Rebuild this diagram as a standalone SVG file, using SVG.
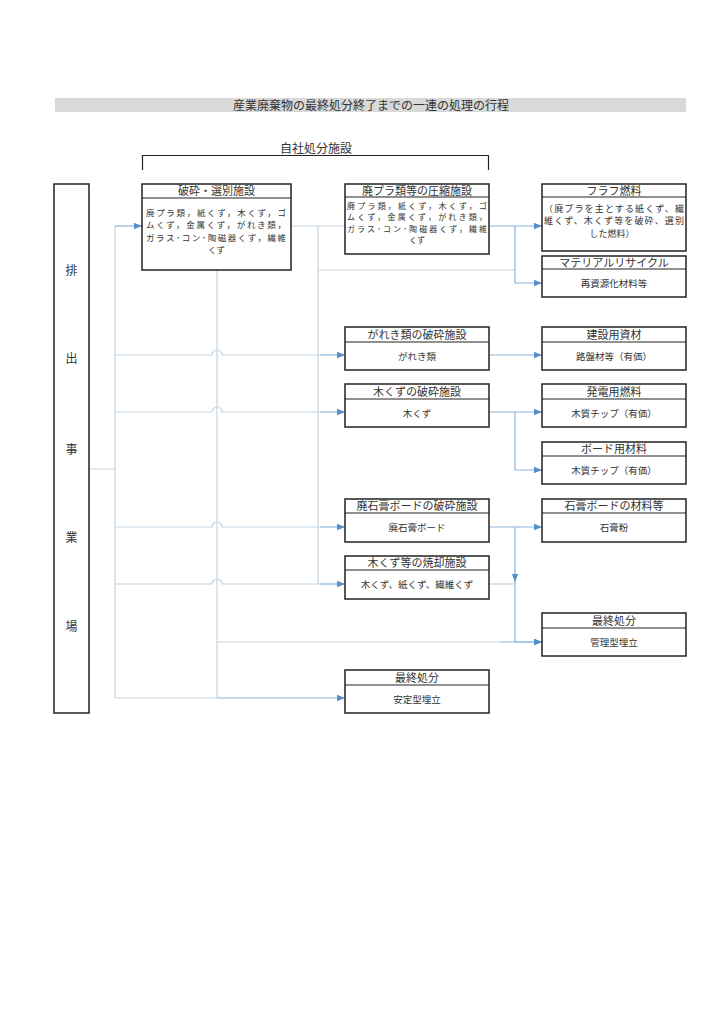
<svg xmlns="http://www.w3.org/2000/svg" width="724" height="1024" viewBox="0 0 724 1024">
<style>
text{font-family:"Noto Sans CJK JP","Noto Sans",sans-serif;fill:#333}
.box{fill:#fff;stroke:#222;stroke-width:1.5}
.hdr{stroke:#222;stroke-width:1.2}
.t{font-size:11px;text-anchor:middle}
.b{font-size:9.5px;text-anchor:middle}
.bl{font-size:9px}
.bm{font-size:8.5px}
.bs{font-size:8px}
.ln{fill:none;stroke:#c3d5e3;stroke-width:1.2}
.lb{fill:none;stroke:#8cb5d9;stroke-width:1.2}
.em{font-size:12px;text-anchor:middle}
</style>
<defs>
<marker id="ar" markerUnits="userSpaceOnUse" markerWidth="9" markerHeight="8" refX="8" refY="4" orient="auto">
<path d="M0,0.8 L8,4 L0,7.2 Z" fill="#5590c8"/>
</marker>
</defs>
<rect width="724" height="1024" fill="#fff"/>
<g id="title">
<rect x="55" y="98" width="631" height="14" fill="#d9d9d9"/>
<text x="371" y="110" style="font-size:12px;text-anchor:middle">産業廃棄物の最終処分終了までの一連の処理の行程</text>
</g>
<g id="bracket">
<path d="M142.5,170 V155.5 H488.5 V170" fill="none" stroke="#222" stroke-width="1.2"/>
<text x="316" y="153" style="font-size:12px;text-anchor:middle">自社処分施設</text>
</g>
<g id="connectors">
<path class="ln" d="M89,469 H115 M115,226 V698"/>
<path class="lb" d="M115,226 H142" marker-end="url(#ar)"/>
<path class="ln" d="M217,270 V698"/>
<path class="ln" d="M291,226 H345 M318,226 V584 M318,270 H515"/>
<path class="lb" d="M489,226 H542" marker-end="url(#ar)"/>
<path class="lb" d="M515,226 V283 H542" marker-end="url(#ar)"/>
<path class="ln" d="M115,355 H212 A5,5 0 0 1 222,355 H320"/>
<path class="lb" d="M320,355 H345" marker-end="url(#ar)"/>
<path class="ln" d="M115,412 H212 A5,5 0 0 1 222,412 H320"/>
<path class="lb" d="M320,412 H345" marker-end="url(#ar)"/>
<path class="ln" d="M115,527 H212 A5,5 0 0 1 222,527 H320"/>
<path class="lb" d="M320,527 H345" marker-end="url(#ar)"/>
<path class="ln" d="M115,584 H212 A5,5 0 0 1 222,584 H320"/>
<path class="lb" d="M320,584 H345" marker-end="url(#ar)"/>
<path class="ln" d="M115,698 H217"/>
<path class="lb" d="M217,698 H345" marker-end="url(#ar)"/>
<path class="lb" d="M489,355 H542" marker-end="url(#ar)"/>
<path class="lb" d="M489,412 H542" marker-end="url(#ar)"/>
<path class="lb" d="M515,412 V470 H542" marker-end="url(#ar)"/>
<path class="lb" d="M489,527 H542" marker-end="url(#ar)"/>
<path class="lb" d="M515,527 V582" marker-end="url(#ar)"/>
<path class="lb" d="M515,582 V642 H542" marker-end="url(#ar)"/>
<path class="ln" d="M489,584 H515"/>
<path class="ln" d="M217,642 H500"/>
<path class="lb" d="M500,642 H542" marker-end="url(#ar)"/>
</g>
<g id="emitter">
<rect class="box" x="54" y="184" width="35" height="529"/>
<text class="em" x="71.5" y="275">排</text>
<text class="em" x="71.5" y="363">出</text>
<text class="em" x="71.5" y="454">事</text>
<text class="em" x="71.5" y="542">業</text>
<text class="em" x="71.5" y="631">場</text>
</g>
<g id="n-sort">
<rect class="box" x="142" y="184" width="149" height="86"/>
<line class="hdr" x1="142" y1="198" x2="291" y2="198"/>
<text class="t" x="216.5" y="195">破砕・選別施設</text>
<text class="bm" x="146" y="216" textLength="140" lengthAdjust="spacing">廃プラ類，紙くず，木くず，ゴ</text>
<text class="bm" x="146" y="228.3" textLength="140" lengthAdjust="spacing">ムくず，金属くず，がれき類，</text>
<text class="bm" x="146" y="240.6" textLength="140" lengthAdjust="spacing">ガラス･コン･陶磁器くず，繊維</text>
<text class="bm" x="216.5" y="252.9" style="text-anchor:middle">くず</text>
</g>
<g id="n-compress">
<rect class="box" x="345" y="184" width="144" height="70"/>
<line class="hdr" x1="345" y1="197" x2="489" y2="197"/>
<text class="t" x="417" y="194.5">廃プラ類等の圧縮施設</text>
<text class="bs" x="347" y="208.5" textLength="140" lengthAdjust="spacing">廃プラ類，紙くず，木くず，ゴ</text>
<text class="bs" x="347" y="220.1" textLength="140" lengthAdjust="spacing">ムくず，金属くず，がれき類，</text>
<text class="bs" x="347" y="231.7" textLength="140" lengthAdjust="spacing">ガラス･コン･陶磁器くず，繊維</text>
<text class="bs" x="417" y="243.3" style="text-anchor:middle">くず</text>
</g>
<g id="n-fluff">
<rect class="box" x="542" y="184" width="144" height="67"/>
<line class="hdr" x1="542" y1="197" x2="686" y2="197"/>
<text class="t" x="614" y="194.5">フラフ燃料</text>
<text class="bl" x="544" y="211.5" textLength="140" lengthAdjust="spacing">（廃プラを主とする紙くず、繊</text>
<text class="bl" x="544" y="224" textLength="140" lengthAdjust="spacing">維くず、木くず等を破砕、選別</text>
<text class="bl" x="612" y="236.5" style="text-anchor:middle">した燃料）</text>
</g>
<g id="n-material">
<rect class="box" x="542" y="256" width="144" height="41"/>
<line class="hdr" x1="542" y1="269" x2="686" y2="269"/>
<text class="t" x="614" y="266.5">マテリアルリサイクル</text>
<text class="b" x="614" y="286.5">再資源化材料等</text>
</g>
<g id="n-rubble">
<rect class="box" x="345" y="327" width="144" height="43"/>
<line class="hdr" x1="345" y1="342" x2="489" y2="342"/>
<text class="t" x="417" y="338.5">がれき類の破砕施設</text>
<text class="b" x="417" y="359.5">がれき類</text>
</g>
<g id="n-construction">
<rect class="box" x="542" y="327" width="144" height="43"/>
<line class="hdr" x1="542" y1="342" x2="686" y2="342"/>
<text class="t" x="614" y="338.5">建設用資材</text>
<text class="b" x="614" y="359.5">路盤材等（有価）</text>
</g>
<g id="n-wood">
<rect class="box" x="345" y="384" width="144" height="43"/>
<line class="hdr" x1="345" y1="399" x2="489" y2="399"/>
<text class="t" x="417" y="395.5">木くずの破砕施設</text>
<text class="b" x="417" y="416.5">木くず</text>
</g>
<g id="n-power">
<rect class="box" x="542" y="384" width="144" height="43"/>
<line class="hdr" x1="542" y1="399" x2="686" y2="399"/>
<text class="t" x="614" y="395.5">発電用燃料</text>
<text class="b" x="614" y="416.5">木質チップ（有価）</text>
</g>
<g id="n-board">
<rect class="box" x="542" y="442" width="144" height="42"/>
<line class="hdr" x1="542" y1="456" x2="686" y2="456"/>
<text class="t" x="614" y="453">ボード用材料</text>
<text class="b" x="614" y="473.5">木質チップ（有価）</text>
</g>
<g id="n-gypsum">
<rect class="box" x="345" y="499" width="144" height="43"/>
<line class="hdr" x1="345" y1="513" x2="489" y2="513"/>
<text class="t" x="417" y="510">廃石膏ボードの破砕施設</text>
<text class="b" x="417" y="530.5">廃石膏ボード</text>
</g>
<g id="n-gypsum-mat">
<rect class="box" x="542" y="499" width="144" height="43"/>
<line class="hdr" x1="542" y1="513" x2="686" y2="513"/>
<text class="t" x="614" y="510">石膏ボードの材料等</text>
<text class="b" x="614" y="530.5">石膏粉</text>
</g>
<g id="n-incinerate">
<rect class="box" x="345" y="556" width="144" height="43"/>
<line class="hdr" x1="345" y1="570" x2="489" y2="570"/>
<text class="t" x="417" y="567">木くず等の焼却施設</text>
<text class="b" x="417" y="587.5">木くず、紙くず、繊維くず</text>
</g>
<g id="n-managed">
<rect class="box" x="542" y="613" width="144" height="43"/>
<line class="hdr" x1="542" y1="628" x2="686" y2="628"/>
<text class="t" x="614" y="624.5">最終処分</text>
<text class="b" x="614" y="645.5">管理型埋立</text>
</g>
<g id="n-stable">
<rect class="box" x="345" y="670" width="144" height="43"/>
<line class="hdr" x1="345" y1="685" x2="489" y2="685"/>
<text class="t" x="417" y="681.5">最終処分</text>
<text class="b" x="417" y="702.5">安定型埋立</text>
</g>
</svg>
